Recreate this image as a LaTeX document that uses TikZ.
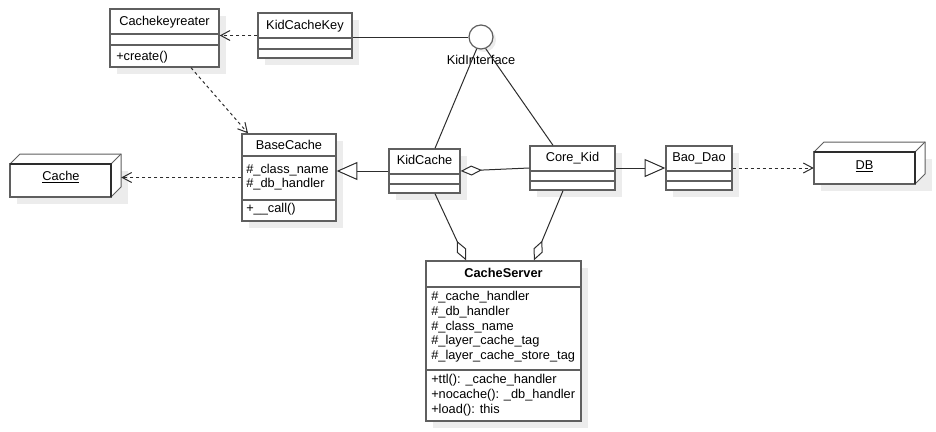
\documentclass[tikz,border=0pt]{standalone}
\usepackage{fontspec}
\setmainfont{Liberation Sans}
\usetikzlibrary{arrows.meta,fit,calc}
\definecolor{boxc}{RGB}{95,95,95}
\definecolor{linec}{RGB}{45,45,45}
\definecolor{shadc}{RGB}{236,236,236}
\tikzset{
  umlbox/.style={draw=boxc, line width=1.05pt, fill=white, inner sep=0pt},
  divider/.style={draw=boxc, line width=1.05pt},
  shadowfill/.style={fill=shadc},
  txt/.style={inner sep=0pt, font=\fontsize{9.6}{11}\selectfont},
  nametxt/.style={txt, anchor=mid},
  attr/.style={txt, anchor=mid west},
  conn/.style={draw=linec, line width=0.75pt},
  dep/.style={conn, dash pattern=on 2.25pt off 2.25pt, -{Straight Barb[length=7pt,width=7.5pt,line width=0.75pt]}},
  gen/.style={conn, -{Triangle[open,length=15.5pt,width=13.5pt,fill=white]}},
  agg/.style={conn, -{Diamond[open,length=16pt,width=7.5pt,fill=white]}},
}
\newcommand\umlclass[7]{%
  \fill[shadowfill] (#2+7,#3+7) rectangle (#4+7,#5+7);
  \node[umlbox, fit={(#2,#3)(#4,#5)}] (#1) {};
  \draw[divider] (#2,#6) -- (#4,#6);
  \draw[divider] (#2,#7) -- (#4,#7);
}
\begin{document}
\begin{tikzpicture}[x=0.75pt,y=-0.75pt]
\useasboundingbox (0,0) rectangle (936,432);

% Cachekeyreater
\umlclass{ckr}{110}{9}{219}{67}{34}{45}
\node[nametxt] (ckrname) at (164.5,22) {Cachekeyreater};
\node[attr] (ckrm1) at (116,57) {+create()};

% KidCacheKey
\umlclass{kck}{258}{13}{352}{58}{38}{49}
\node[nametxt] (kckname) at (305,26) {KidCacheKey};

% BaseCache
\umlclass{bc}{242}{134}{336}{221}{156}{200}
\node[nametxt] (bcname) at (289,146) {BaseCache};
\node[attr] (bca1) at (246,170) {\#\_class\_name};
\node[attr] (bca2) at (246,184) {\#\_db\_handler};
\node[attr] (bcm1) at (246,209) {+\_\_call()};

% KidCache
\umlclass{kc}{389}{149}{460}{193}{174}{184}
\node[nametxt] (kcname) at (424.5,161) {KidCache};

% Core_Kid
\umlclass{core}{530}{146}{615}{190}{171}{181}
\node[nametxt] (corename) at (572.5,158) {Core\_Kid};

% Bao_Dao
\umlclass{bao}{666}{146}{732}{190}{171}{181}
\node[nametxt] (baoname) at (699,158) {Bao\_Dao};

% CacheServer
\umlclass{cs}{426}{261}{581}{421}{287}{370}
\node[nametxt, font=\fontsize{9.6}{11}\selectfont\bfseries] (csname) at (503.5,274) {CacheServer};
\node[attr] (csa1) at (431,297) {\#\_cache\_handler};
\node[attr] (csa2) at (431,312) {\#\_db\_handler};
\node[attr] (csa3) at (431,326.5) {\#\_class\_name};
\node[attr] (csa4) at (431,341) {\#\_layer\_cache\_tag};
\node[attr] (csa5) at (431,356) {\#\_layer\_cache\_store\_tag};
\node[attr] (csm1) at (431,380) {+ttl(): \_cache\_handler};
\node[attr] (csm2) at (431,395) {+nocache(): \_db\_handler};
\node[attr] (csm3) at (431,409.5) {+load(): this};

% Cache (3D node)
\fill[shadowfill] (17,171) rectangle (128,204);
\node[inner sep=0pt, fit={(10,154)(121,197)}] (cache) {};
\fill[white] (10,164) -- (20,154) -- (121,154) -- (121,187) -- (111,197) -- (10,197) -- cycle;
\draw[conn, draw=boxc] (10,164) -- (20,154) -- (121,154) -- (121,187) -- (111,197);
\draw[conn, draw=boxc] (111,164) -- (121,154);
\draw[divider] (10,164) rectangle (111,197);
\draw[draw=linec, line width=1.6pt] (10,164) -- (111,164) -- (111,197);
\node[nametxt] (cachename) at (61,177) {\underline{Cache}};

% DB (3D node)
\fill[shadowfill] (821,159) rectangle (932,191);
\node[inner sep=0pt, fit={(814,142)(925,184)}] (db) {};
\fill[white] (814,152) -- (824,142) -- (925,142) -- (925,174) -- (915,184) -- (814,184) -- cycle;
\draw[conn, draw=boxc] (814,152) -- (824,142) -- (925,142) -- (925,174) -- (915,184);
\draw[conn, draw=boxc] (915,152) -- (925,142);
\draw[divider] (814,152) rectangle (915,184);
\draw[draw=linec, line width=1.6pt] (814,152) -- (915,152) -- (915,184);
\node[nametxt] (dbname) at (864.5,166) {\underline{DB}};

% Interface
\fill[shadc] (484,40) circle [radius=12];
\node[circle, draw=boxc, line width=0.9pt, fill=white, minimum size=18pt, inner sep=0pt] (iface) at (481,37) {};
\node[nametxt] (ifacename) at (481,61) {KidInterface};

% Connectors
\draw[dep] (kck.west) -- (kck.west -| ckr.east);
\draw[dep] (ckr.south -| 191,0) -- (bc.north -| 248,0);
\draw[dep] (bc.west) -- (bc.west -| cache.east);
\draw[conn] (kck.east |- iface.west) -- (iface.west);
\draw[conn] (iface.-110) -- (kc.north -| 435,0);
\draw[conn] (iface.-68) -- (core.north -| 553,0);
\draw[gen] (kc.west) -- (kc.west -| bc.east);
\draw[agg] (core.west) -- (kc.east);
\draw[gen] (core.east) -- (core.east -| bao.west);
\draw[dep] (bao.east) -- (bao.east -| db.west);
\draw[agg] (kc.south -| 435,0) -- (cs.north -| 466,0);
\draw[agg] (core.south -| 563,0) -- (cs.north -| 534,0);
\end{tikzpicture}
\end{document}
